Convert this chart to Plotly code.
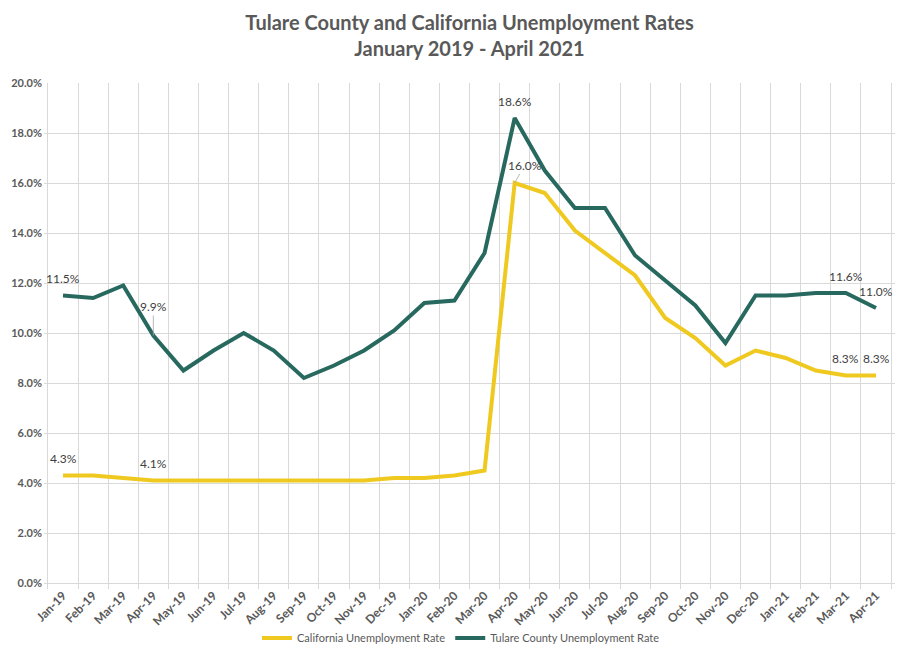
import plotly.graph_objects as go

months = ["Jan-19", "Feb-19", "Mar-19", "Apr-19", "May-19", "Jun-19", "Jul-19",
          "Aug-19", "Sep-19", "Oct-19", "Nov-19", "Dec-19", "Jan-20", "Feb-20",
          "Mar-20", "Apr-20", "May-20", "Jun-20", "Jul-20", "Aug-20", "Sep-20",
          "Oct-20", "Nov-20", "Dec-20", "Jan-21", "Feb-21", "Mar-21", "Apr-21"]

california = [4.3, 4.3, 4.2, 4.1, 4.1, 4.1, 4.1, 4.1, 4.1, 4.1, 4.1, 4.2, 4.2, 4.3,
              4.5, 16.0, 15.6, 14.1, 13.2, 12.3, 10.6, 9.8, 8.7, 9.3, 9.0, 8.5, 8.3, 8.3]

tulare = [11.5, 11.4, 11.9, 9.9, 8.5, 9.3, 10.0, 9.3, 8.2, 8.7, 9.3, 10.1, 11.2, 11.3,
          13.2, 18.6, 16.5, 15.0, 15.0, 13.1, 12.1, 11.1, 9.6, 11.5, 11.5, 11.6, 11.6, 11.0]

# months that carry a data label
ca_labels = ["Jan-19", "Apr-19", "Apr-20", "Mar-21", "Apr-21"]
tc_labels = ["Jan-19", "Apr-19", "Apr-20", "Mar-21", "Apr-21"]

YELLOW = "#EFC91F"
GREEN = "#28695F"
FONT = "Lato"

# the page body has an 8px margin, so the figure is sized to fill the rest
W, H = 903, 638

fig = go.Figure()
fig.add_trace(go.Scatter(x=months, y=california, mode="lines",
                         name="California Unemployment Rate",
                         line=dict(color=YELLOW, width=4)))
fig.add_trace(go.Scatter(x=months, y=tulare, mode="lines",
                         name="Tulare County Unemployment Rate",
                         line=dict(color=GREEN, width=4)))

annos = []
# labels with a leader line
leaders = {("tc", "Apr-19"): (0, -29), ("ca", "Apr-20"): (10, -18)}
for key, vals, lab in (("ca", california, ca_labels), ("tc", tulare, tc_labels)):
    for m in lab:
        v = vals[months.index(m)]
        txt = f"{v:.1f}%"
        if (key, m) in leaders:
            ax, ay = leaders[(key, m)]
            annos.append(dict(x=m, y=v, text=txt, showarrow=True, arrowhead=0,
                              arrowwidth=0.8, arrowcolor="#A6A6A6", ax=ax, ay=ay,
                              font=dict(family=FONT, size=12, color="#404040")))
        else:
            annos.append(dict(x=m, y=v, text=txt, showarrow=False, yshift=17,
                              font=dict(family=FONT, size=12, color="#404040")))

fig.update_layout(
    title=dict(text="<b>Tulare County and California Unemployment Rates<br>January 2019 - April 2021</b>",
               x=0.5, xanchor="center", xref="paper", yref="container",
               y=1 - 21.5 / H, yanchor="middle",
               font=dict(family=FONT, size=20, color="#595959")),
    width=W, height=H,
    margin=dict(l=36, r=16, t=75, b=63),
    paper_bgcolor="white", plot_bgcolor="white",
    font=dict(family=FONT, color="#595959"),
    showlegend=True,
    legend=dict(orientation="h", x=0.49, xanchor="center", yref="container",
                y=1 - 630 / H, yanchor="middle", bgcolor="rgba(0,0,0,0)",
                font=dict(family=FONT, size=11, color="#595959"), itemwidth=30),
    annotations=annos,
    xaxis=dict(type="category", tickson="boundaries", showgrid=True, automargin=False,
               gridcolor="#D9D9D9", gridwidth=1, showline=True, linecolor="#D9D9D9",
               ticks="outside", ticklen=5, tickcolor="#D9D9D9", tickangle=-45,
               tickfont=dict(family=FONT, size=12, color="#595959", weight="bold")),
    yaxis=dict(range=[0, 20], dtick=2, tickformat=".1f", ticksuffix="%", automargin=False,
               showgrid=True, gridcolor="#D9D9D9", gridwidth=1, zeroline=False,
               ticklabelstandoff=1,
               tickfont=dict(family=FONT, size=11, color="#595959", weight="bold")),
)

fig.write_html("out.html")
